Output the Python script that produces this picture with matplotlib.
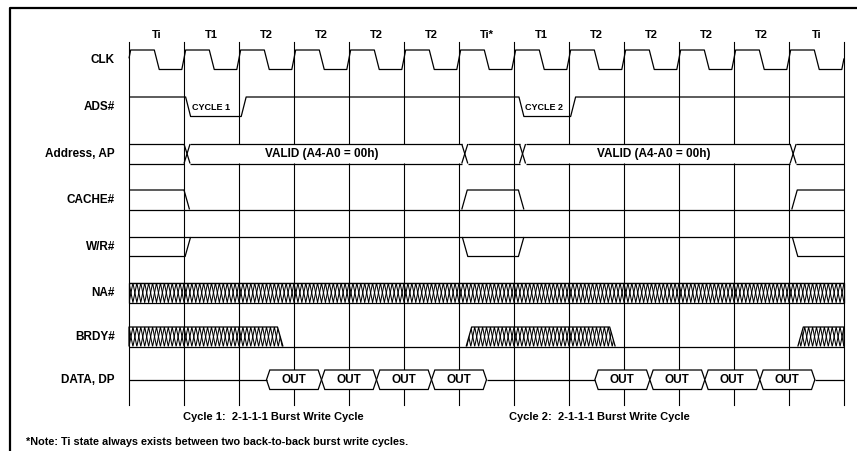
import numpy as np
import matplotlib.pyplot as plt
from matplotlib.patches import Polygon

# clock states across the top
cycle_labels = ["Ti", "T1", "T2", "T2", "T2", "T2", "Ti*", "T1", "T2", "T2", "T2", "T2", "Ti"]
signal_names = ["CLK", "ADS#", "Address, AP", "CACHE#", "W/R#", "NA#", "BRDY#", "DATA, DP"]

# signal events, in clock cycles from the first edge
ads_low = [(1.03, 2.04), (7.09, 8.03)]
ads_notes = ["CYCLE 1", "CYCLE 2"]
addr_edges = [1.0, 6.05, 7.1, 12.02]
addr_text = "VALID (A4-A0 = 00h)"
addr_valid = [(1.0, 6.05), (7.1, 12.02)]
cache_high = [(0, 1.0), (6.05, 7.08), (12.05, 13)]
wr_low = [(0, 1.02), (6.06, 7.08), (12.06, 13)]
brdy_hatch = [(0, 2.8), (6.13, 8.84), (12.16, 13)]
data_bursts = [2.5, 8.47]
data_words = ["OUT", "OUT", "OUT", "OUT"]
captions = ["Cycle 1:  2-1-1-1 Burst Write Cycle", "Cycle 2:  2-1-1-1 Burst Write Cycle"]
caption_x = [2.63, 8.55]
note = "*Note: Ti state always exists between two back-to-back burst write cycles."

# layout (y in pixels from the top, x in cycles)
X0, PERIOD = 129, 55
ROW_TOP = [50, 97, 144, 190, 237, 283, 327, 370]
ROW_H = 19.5
N = len(cycle_labels)
LW = 0.9
FONT = "Liberation Sans"


def line(ax, xs, ys, lw=LW, **kw):
    ax.plot(xs, ys, color="black", lw=lw, solid_capstyle="butt", zorder=3, **kw)


def label(ax, x, y, txt, size, **kw):
    ax.text(x, y, txt, fontsize=size, fontweight="bold", family=FONT,
            va="center", zorder=4, **kw)


# clock waveform, clipped to the drawn cycles
def draw_clock(ax, top, bot):
    xs, ys = [], []
    for k in range(-1, N + 1):
        xs += [k - 0.04, k + 0.03, k + 0.46, k + 0.55]
        ys += [bot, top, top, bot]
    xs = np.array(xs)
    xx = np.concatenate([[0], xs[(xs > 0) & (xs < N)], [N]])
    line(ax, xx, np.interp(xx, xs, ys))


# a level signal with pulses; baseline drawn full width
def draw_pulses(ax, intervals, base, level, edge=0.1):
    line(ax, [0, N], [base, base])
    for a, b in intervals:
        xs, ys = [], []
        if a > 0:
            xs += [a, a + edge]
            ys += [base, level]
        else:
            xs.append(0)
            ys.append(level)
        if b < N:
            xs += [b, b + edge]
            ys += [level, base]
        else:
            xs.append(N)
            ys.append(level)
        line(ax, xs, ys)


def draw_ads(ax, top, bot, edge=0.09):
    xs, ys = [0], [top]
    for (a, b), txt in zip(ads_low, ads_notes):
        xs += [a, a + edge, b, b + edge]
        ys += [top, bot, bot, top]
        label(ax, a + edge + 0.02, (top + bot) / 2 + 0.5, txt, 6.5, ha="left")
    xs.append(N)
    ys.append(top)
    line(ax, xs, ys)


# bus with X crossings, valid segments filled white
def draw_bus(ax, top, bot, edges, w=0.11):
    mid = (top + bot) / 2
    bounds = [0] + edges + [N]
    for s, e in zip(bounds[:-1], bounds[1:]):
        start = s + w if s in edges else s
        line(ax, [start, e], [top, top])
        line(ax, [start, e], [bot, bot])
    for c in edges:
        line(ax, [c, c + w], [top, bot])
        line(ax, [c, c + w], [bot, top])
    for a, b in addr_valid:
        hx = [a + w / 2, a + w, b, b + w / 2, b, a + w]
        hy = [mid, top, top, mid, bot, bot]
        ax.add_patch(Polygon(list(zip(hx, hy)), closed=True, facecolor="white",
                             edgecolor="none", zorder=2))
        label(ax, (a + w + b) / 2 - 0.07, mid + 0.5, addr_text, 8.5, ha="center")


# crosshatch band clipped to a trapezoid
def draw_hatch(ax, a, b, top, bot, slope=0.1, per_cycle=14):
    left = a + slope if a > 0 else a
    right = b - slope if b < N else b
    poly = Polygon([(a, bot), (left, top), (right, top), (b, bot)], closed=True,
                   facecolor="none", edgecolor="none")
    ax.add_patch(poly)
    step = 1.0 / per_cycle
    xs = np.arange(np.floor(a), np.ceil(b) + step, step)
    ya = np.where(np.arange(len(xs)) % 2 == 0, top, bot)
    yb = np.where(np.arange(len(xs)) % 2 == 0, bot, top)
    for ys in (ya, yb):
        ln, = ax.plot(xs, ys, color="black", lw=0.75, zorder=3)
        ln.set_clip_path(poly)
    line(ax, [a, left, right, b], [bot, top, top, bot])


def draw_data(ax, top, bot, w=0.06):
    mid = (top + bot) / 2
    n = len(data_words)
    line(ax, [0, data_bursts[0]], [mid, mid])
    for i, s in enumerate(data_bursts):
        for j, word in enumerate(data_words):
            x0, x1 = s + j, s + j + 1
            hx = [x0, x0 + w, x1 - w, x1, x1 - w, x0 + w]
            hy = [mid, top, top, mid, bot, bot]
            ax.add_patch(Polygon(list(zip(hx, hy)), closed=True, facecolor="white",
                                 edgecolor="black", lw=LW, zorder=2.5))
            label(ax, (x0 + x1) / 2, mid + 0.5, word, 8.5, ha="center")
        nxt = data_bursts[i + 1] if i + 1 < len(data_bursts) else N
        line(ax, [s + n, nxt], [mid, mid])


def build_diagram():
    fig = plt.figure(figsize=(8.57, 4.51), dpi=100)
    ax = fig.add_axes([0, 0, 1, 1])
    ax.set_xlim(-X0 / PERIOD, (857 - X0) / PERIOD)
    ax.set_ylim(451, 0)
    ax.axis("off")

    # frame
    bx = (10 - X0) / PERIOD
    line(ax, [bx, bx, 20], [460, 8, 8], lw=1.6)

    # clock edge grid
    for k in range(N + 1):
        ax.plot([k, k], [42, 405], color="black", lw=0.8, zorder=1)
    for k, lab in enumerate(cycle_labels):
        label(ax, k + 0.5, 35, lab, 8, ha="center")

    # signal names
    for name, t in zip(signal_names, ROW_TOP):
        label(ax, -0.255, t + ROW_H / 2, name, 8.5, ha="right")

    tops = ROW_TOP
    bots = [t + ROW_H for t in ROW_TOP]
    draw_clock(ax, tops[0], bots[0])
    draw_ads(ax, tops[1], bots[1])
    draw_bus(ax, tops[2], bots[2], addr_edges)
    draw_pulses(ax, cache_high, bots[3], tops[3])
    draw_pulses(ax, wr_low, tops[4], bots[4])
    draw_hatch(ax, 0, N, tops[5], bots[5])
    line(ax, [0, N], [tops[5], tops[5]])
    line(ax, [0, N], [bots[5], bots[5]])
    line(ax, [0, N], [bots[6], bots[6]])
    for a, b in brdy_hatch:
        draw_hatch(ax, a, b, tops[6], bots[6])
    draw_data(ax, tops[7], bots[7])

    for cx, cap in zip(caption_x, captions):
        label(ax, cx, 417, cap, 8, ha="center")
    label(ax, (26 - X0) / PERIOD, 442, note, 7.8, ha="left")

    fig.savefig("out.png", dpi=100)


if __name__ == "__main__":
    build_diagram()
